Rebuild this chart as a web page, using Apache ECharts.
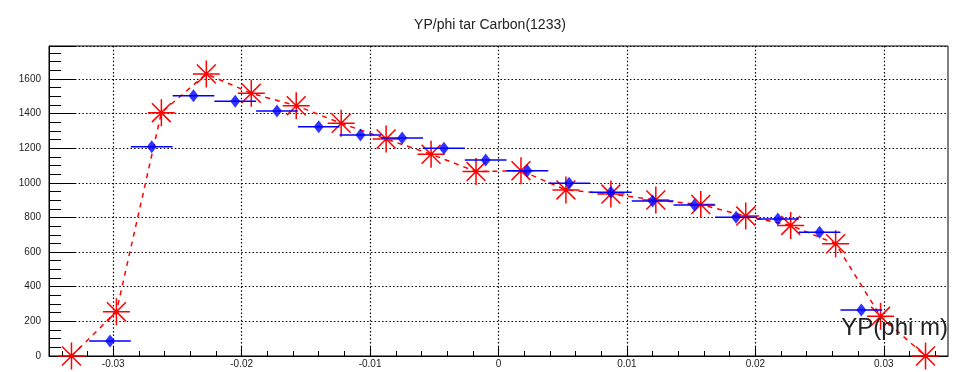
<!DOCTYPE html>
<html>
<head>
<meta charset="utf-8">
<script src="https://cdn.jsdelivr.net/npm/echarts@6/dist/echarts.min.js"></script>
<style>
  html, body { margin: 0; padding: 0; background: #fff; }
  #chart { width: 980px; height: 372px; }
</style>
</head>
<body>
<div id="chart"></div>
<script>
// red stars: bin centres and counts
const starX = [-0.03325, -0.02975, -0.02625, -0.02275, -0.01925, -0.01575, -0.01225, -0.00875, -0.00525, -0.00175,
  0.00175, 0.00525, 0.00875, 0.01225, 0.01575, 0.01925, 0.02275, 0.02625, 0.02975, 0.03325];
const starY = [0, 256, 1405, 1629, 1517, 1445, 1344, 1253, 1165, 1065,
  1070, 959, 935, 901, 875, 808, 754, 648, 229, 0];

// blue points: bin centres, counts, half bin width
const blueX = [-0.03025, -0.027, -0.02375, -0.0205, -0.01725, -0.014, -0.01075, -0.0075, -0.00425, -0.001,
  0.00225, 0.0055, 0.00875, 0.012, 0.01525, 0.0185, 0.02175, 0.025, 0.02825];
const blueY = [87, 1208, 1503, 1471, 1415, 1324, 1276, 1259, 1200, 1132,
  1070, 998, 946, 895, 872, 801, 791, 714, 266];
const blueHalfWidth = 0.001625;

// axis ticks
const xMajorTicks = [-0.03, -0.02, -0.01, 0, 0.01, 0.02, 0.03];
const xMinorTicks = [];
for (let i = -17; i <= 17; i++) xMinorTicks.push(+(i * 0.002).toFixed(3));

const chart = echarts.init(document.getElementById('chart'));

const starSymbol = 'path://M10,0 L10,20 M0,10 L20,10 M3,3 L17,17 M3,17 L17,3';
const gridDots = { color: '#000', width: 1.2, type: [1.5, 2.2] };
const fontFamily = '"Liberation Sans", Arial, Helvetica, sans-serif';

const option = {
  animation: false,
  backgroundColor: '#fff',
  title: {
    text: 'YP/phi tar Carbon(1233)',
    left: 'center',
    top: 13,
    textStyle: { fontFamily, fontSize: 14, fontWeight: 'normal', color: '#222' }
  },
  graphic: [{
    type: 'text',
    right: 32,
    top: 316,
    z: 100,
    style: { text: 'YP(phi m)', font: '24px ' + fontFamily, fill: '#222' }
  }],
  grid: {
    left: 49, right: 32, top: 46, bottom: 16,
    show: true, borderColor: '#000', borderWidth: 1, backgroundColor: 'transparent'
  },
  xAxis: [
    {
      type: 'value', min: -0.035, max: 0.035, position: 'bottom',
      axisLine: { onZero: false, lineStyle: { color: '#000', width: 1 } },
      axisTick: { inside: true, length: 10, customValues: xMajorTicks, lineStyle: { color: '#000' } },
      axisLabel: {
        customValues: xMajorTicks, margin: 3, fontFamily, fontSize: 10, color: '#222',
        formatter: v => String(+v.toFixed(3))
      },
      splitLine: { show: true, lineStyle: gridDots }
    },
    {
      type: 'value', min: -0.035, max: 0.035, position: 'bottom', offset: 0,
      axisLine: { show: false, onZero: false },
      axisTick: { inside: true, length: 5, customValues: xMinorTicks, lineStyle: { color: '#000' } },
      axisLabel: { show: false },
      splitLine: { show: false }
    }
  ],
  yAxis: {
    type: 'value', min: 0, max: 1790, interval: 200, position: 'left',
    axisLine: { show: true, onZero: false, lineStyle: { color: '#000', width: 1 } },
    axisTick: { show: true, inside: true, length: 27, lineStyle: { color: '#000' } },
    minorTick: { show: true, splitNumber: 4, length: 12, lineStyle: { color: '#000' } },
    axisLabel: {
      margin: 8, fontFamily, fontSize: 10, color: '#222', showMaxLabel: false,
      formatter: v => String(v)
    },
    splitLine: { show: true, lineStyle: gridDots }
  },
  series: [
    {
      name: 'stars',
      type: 'line',
      data: starX.map((x, i) => [x, starY[i]]),
      symbol: starSymbol,
      symbolSize: 27,
      lineStyle: { color: '#ff0000', width: 1.5, type: [5, 5] },
      itemStyle: { color: '#ff0000', borderColor: '#ff0000', borderWidth: 1.5 },
      z: 2
    },
    {
      name: 'blueBars',
      type: 'custom',
      data: blueX.map((x, i) => [x, blueY[i], blueHalfWidth]),
      renderItem: (params, api) => {
        const x = api.value(0), y = api.value(1), e = api.value(2);
        const p1 = api.coord([x - e, y]);
        const p2 = api.coord([x + e, y]);
        return {
          type: 'line',
          shape: { x1: p1[0], y1: p1[1], x2: p2[0], y2: p2[1] },
          style: { stroke: '#0000ff', lineWidth: 1.5 }
        };
      },
      z: 3
    },
    {
      name: 'blue',
      type: 'scatter',
      data: blueX.map((x, i) => [x, blueY[i]]),
      symbol: 'diamond',
      symbolSize: [10, 13],
      itemStyle: { color: '#0000ff' },
      z: 4
    }
  ]
};

chart.setOption(option);
</script>
</body>
</html>
